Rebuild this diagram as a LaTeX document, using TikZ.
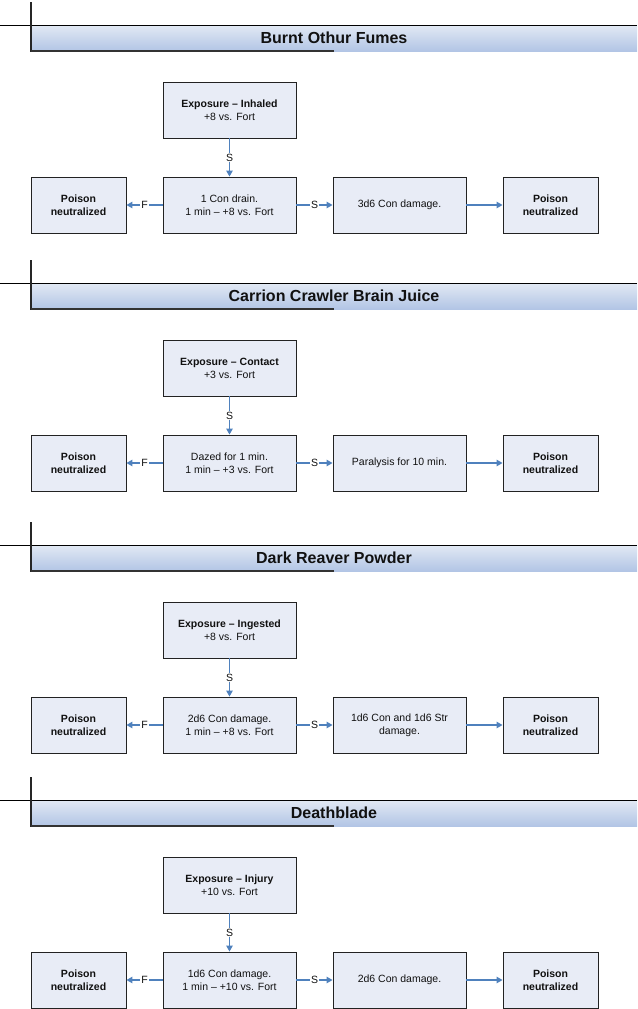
\documentclass[tikz,border=0pt]{standalone}
\usepackage{fontspec}
\setmainfont{Liberation Sans}
\usetikzlibrary{arrows.meta}
\definecolor{boxfill}{HTML}{E8ECF6}
\definecolor{boxborder}{HTML}{222222}
\definecolor{arrowblue}{HTML}{4F81BD}
\definecolor{bandtop}{HTML}{E2E9F4}
\definecolor{bandbot}{HTML}{B2C5E5}
\definecolor{textdark}{HTML}{111111}

\tikzset{
  boxtext/.style={font=\fontsize{10.5}{13}\selectfont, text=textdark, align=center},
  flowbox/.style={boxtext, draw=boxborder, line width=0.9pt, fill=boxfill,
    minimum width=133pt, minimum height=56pt, inner sep=0pt},
  poisonbox/.style={flowbox, minimum width=95pt, font=\fontsize{10.5}{13}\selectfont\bfseries},
  flowarrow/.style={draw=arrowblue, line width=1.2pt, -{Triangle[length=6pt,width=6.5pt]}},
  edgelabel/.style={fill=white, inner sep=1pt, font=\fontsize{10.5}{12}\selectfont, text=textdark},
  headerline/.style={draw=black, line width=0.9pt},
  headervline/.style={draw=black!85, line width=1.3pt},
  headerbottom/.style={draw=black!80, line width=2pt},
  titletext/.style={font=\fontsize{16}{18}\selectfont\bfseries, text=textdark},
}

\newcommand{\poisonblock}[7]{%
  \begin{scope}[yshift=-#2pt]
    \shade[top color=bandtop, bottom color=bandbot] (31,0) rectangle (637,26);
    \draw[headerline] (0,0) -- (637,0);
    \draw[headervline] (31,-23) -- (31,27);
    \draw[headerbottom] (31,26) -- (334,26);
    \node[titletext] (t#1) at (334,13) {#3};
    \node[flowbox] (e#1) at (229.5,85) {\textbf{Exposure – #4}\\#5 vs. Fort};
    \node[flowbox] (m#1) at (229.5,180) {#6\\1 min – #5 vs. Fort};
    \node[flowbox] (d#1) at (399.5,180) {#7};
    \node[poisonbox] (l#1) at (78.5,180) {Poison\\neutralized};
    \node[poisonbox] (r#1) at (550.5,180) {Poison\\neutralized};
    \draw[flowarrow] (e#1) -- node[edgelabel] {S} (m#1);
    \draw[flowarrow] (m#1) -- node[edgelabel] {F} (l#1);
    \draw[flowarrow] (m#1) -- node[edgelabel] {S} (d#1);
    \draw[flowarrow] (d#1) -- (r#1);
  \end{scope}%
}

\begin{document}
\begin{tikzpicture}[x=1pt, y=-1pt]
  \useasboundingbox (0,0) rectangle (637,1009);
  \poisonblock{a}{25}{Burnt Othur Fumes}{Inhaled}{+8}{1 Con drain.}{3d6 Con damage.}
  \poisonblock{b}{283}{Carrion Crawler Brain Juice}{Contact}{+3}{Dazed for 1 min.}{Paralysis for 10 min.}
  \poisonblock{c}{545}{Dark Reaver Powder}{Ingested}{+8}{2d6 Con damage.}{1d6 Con and 1d6 Str\\damage.}
  \poisonblock{d}{800}{Deathblade}{Injury}{+10}{1d6 Con damage.}{2d6 Con damage.}
\end{tikzpicture}
\end{document}
